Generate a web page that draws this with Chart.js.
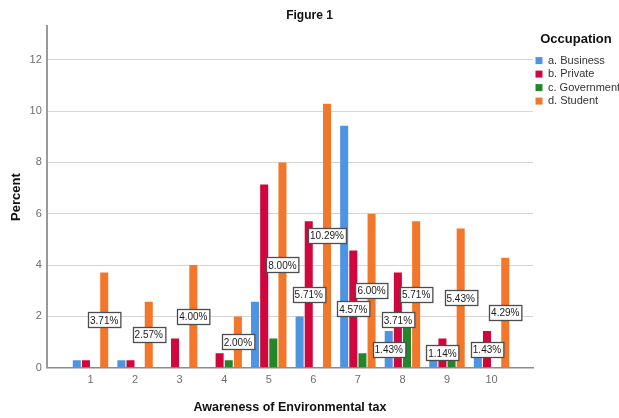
<!DOCTYPE html>
<html lang="en">
<head>
    <meta charset="UTF-8">
    <title>Figure 1</title>
    <script src="https://cdn.jsdelivr.net/npm/chart.js"></script>
    <style>
        body { margin: 0; background: #fff; }
        #diagram { display: block; }
    </style>
</head>
<body>
<canvas id="diagram" width="619" height="418"></canvas>
<script>
    const categories = [1, 2, 3, 4, 5, 6, 7, 8, 9, 10];

    const business = [0.29, 0.29, 0, 0, 2.57, 2.00, 9.43, 1.43, 0.29, 0.57];
    const privateSector = [0.29, 0.29, 1.14, 0.57, 7.14, 5.71, 4.57, 3.71, 1.14, 1.43];
    const government = [0, 0, 0, 0.29, 1.14, 0, 0.57, 1.71, 0.29, 0];
    const student = [3.71, 2.57, 4.00, 2.00, 8.00, 10.29, 6.00, 5.71, 5.43, 4.29];

    // which categories carry a value label, per series
    const labelledBusiness = [8];
    const labelledPrivate = [6, 7, 8, 9, 10];
    const labelledGovernment = [];
    const labelledStudent = [1, 2, 3, 4, 5, 6, 7, 8, 9, 10];

    const yTicks = [0, 2, 4, 6, 8, 10, 12];

    const FONT = '"Liberation Sans", Arial, sans-serif';

    function points(values) {
        return values.map((v, i) => ({x: categories[i], y: v}));
    }

    const labelled = [labelledBusiness, labelledPrivate, labelledGovernment, labelledStudent];

    const barLabels = {
        id: 'barLabels',
        afterDatasetsDraw(chart) {
            const ctx = chart.ctx;
            ctx.save();
            ctx.font = '10px ' + FONT;
            ctx.textAlign = 'center';
            ctx.textBaseline = 'middle';
            chart.data.datasets.forEach((ds, i) => {
                const meta = chart.getDatasetMeta(i);
                labelled[i].forEach(cat => {
                    const idx = categories.indexOf(cat);
                    const bar = meta.data[idx];
                    const text = ds.data[idx].y.toFixed(2) + '%';
                    const cy = (bar.y + bar.base) / 2;
                    const w = ctx.measureText(text).width + 4;
                    const h = 15;
                    const left = Math.round(bar.x - w / 2) + 0.5;
                    const top = Math.round(cy - h / 2) + 0.5;
                    ctx.fillStyle = '#fff';
                    ctx.fillRect(left, top, w, h);
                    ctx.strokeStyle = '#4d4d4d';
                    ctx.lineWidth = 1.3;
                    ctx.strokeRect(left, top, w, h);
                    ctx.fillStyle = '#1a1a1a';
                    ctx.fillText(text, bar.x, cy + 1);
                });
            });
            ctx.restore();
        }
    };

    const commonBar = {
        categoryPercentage: 0.82,
        barPercentage: 0.88,
        borderWidth: 0
    };

    var chart = new Chart("diagram", {
        type: "bar",
        data: {
            datasets: [
                Object.assign({label: "a. Business", data: points(business), backgroundColor: "#4d94e3"}, commonBar),
                Object.assign({label: "b. Private", data: points(privateSector), backgroundColor: "#d1063d"}, commonBar),
                Object.assign({label: "c. Government", data: points(government), backgroundColor: "#23862b"}, commonBar),
                Object.assign({label: "d. Student", data: points(student), backgroundColor: "#f3772a"}, commonBar)
            ]
        },
        plugins: [barLabels],
        options: {
            responsive: false,
            animation: false,
            layout: {padding: {left: 0, right: 0, top: 0, bottom: 0}},
            plugins: {
                tooltip: {enabled: false},
                title: {
                    display: true,
                    text: 'Figure 1',
                    color: '#111',
                    font: {family: FONT, size: 12, weight: 'bold'},
                    padding: {top: 8, bottom: 4}
                },
                legend: {
                    position: 'right',
                    align: 'start',
                    maxWidth: 86,
                    title: {
                        display: true,
                        text: 'Occupation',
                        position: 'center',
                        color: '#111',
                        font: {family: FONT, size: 13, weight: 'bold'},
                        padding: {top: 33, bottom: 4}
                    },
                    labels: {
                        boxWidth: 7,
                        boxHeight: 7,
                        padding: 2.5,
                        color: '#333',
                        font: {family: FONT, size: 11}
                    }
                }
            },
            scales: {
                x: {
                    type: 'linear',
                    min: 0.02,
                    max: 10.93,
                    offset: false,
                    afterBuildTicks: scale => {
                        scale.ticks = categories.map(v => ({value: v}));
                    },
                    ticks: {
                        color: '#6e6e6e',
                        padding: 6,
                        font: {family: FONT, size: 11},
                        callback: v => String(v)
                    },
                    grid: {display: false, drawTicks: false},
                    border: {display: true, color: '#8c8c8c', width: 1.5},
                    title: {
                        display: true,
                        text: 'Awareness of Environmental tax',
                        color: '#111',
                        font: {family: FONT, size: 12.5, weight: 'bold'},
                        padding: {top: 7, bottom: 3}
                    }
                },
                y: {
                    min: 0,
                    max: 13.3,
                    afterBuildTicks: scale => {
                        scale.ticks = yTicks.map(v => ({value: v}));
                    },
                    ticks: {
                        color: '#6e6e6e',
                        padding: 5,
                        font: {family: FONT, size: 11}
                    },
                    grid: {color: '#d6d6d6', lineWidth: 1, drawTicks: false},
                    border: {display: true, color: '#9a9a9a', width: 2},
                    title: {
                        display: true,
                        text: 'Percent',
                        color: '#111',
                        font: {family: FONT, size: 13, weight: 'bold'},
                        padding: {top: 9, bottom: 0}
                    }
                }
            }
        }
    });
</script>
</body>
</html>
